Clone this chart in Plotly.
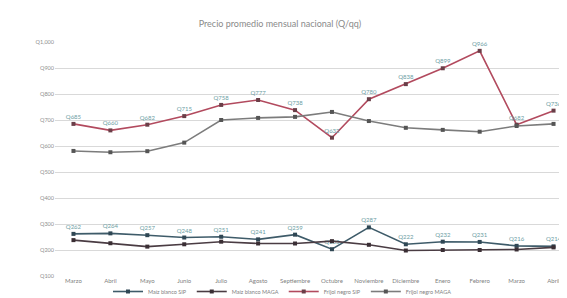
import plotly.graph_objects as go

months = ["Marzo", "Abril", "Mayo", "Junio", "Julio", "Agosto", "Septiembre", "Octubre",
          "Noviembre", "Diciembre", "Enero", "Febrero", "Marzo", "Abril"]
maiz_sip = [262, 264, 257, 248, 251, 241, 259, 203, 287, 222, 232, 231, 216, 214]
maiz_maga = [238, 226, 213, 222, 232, 225, 225, 234, 220, 198, 200, 200, 202, 210]
frijol_sip = [685, 660, 682, 715, 758, 777, 738, 632, 780, 838, 899, 966, 682, 736]
frijol_maga = [581, 576, 580, 613, 700, 708, 712, 731, 696, 670, 662, 655, 677, 685]
ytick_vals = [100, 200, 300, 400, 500, 600, 700, 800, 900, 1000]
ytick_text = ["Q100", "Q200", "Q300", "Q400", "Q500", "Q600", "Q700", "Q800", "Q900", "Q1,000"]

x = list(range(len(months)))
font = "Lato, Open Sans, sans-serif"
label_color = "#6d9ea4"

fig = go.Figure()

def add(name, y, line_color, marker_color, labels):
    fig.add_trace(go.Scatter(
        x=x, y=y, name=name,
        mode="lines+markers+text" if labels else "lines+markers",
        line=dict(color=line_color, width=1.6),
        marker=dict(color=marker_color, size=4, symbol="square"),
        text=[f"Q{v}" for v in y] if labels else None,
        textposition="top center",
        textfont=dict(size=6, color=label_color, family=font),
        cliponaxis=False,
    ))

add("Maíz blanco SIP", maiz_sip, "#3e5b69", "#2f4754", True)
add("Maíz blanco MAGA", maiz_maga, "#4a3c43", "#3a2e34", False)
add("Frijol negro SIP", frijol_sip, "#b24a5e", "#6a3f48", True)
add("Frijol negro MAGA", frijol_maga, "#7c7c7c", "#555555", False)

fig.update_layout(
    width=567, height=298,
    margin=dict(l=47, r=3, t=34, b=30, autoexpand=False),
    paper_bgcolor="white", plot_bgcolor="white",
    title=dict(text="Precio promedio mensual nacional (Q/qq)", x=0.435, xanchor="center",
               xref="paper", yref="container", y=1 - 16 / 298, yanchor="middle",
               font=dict(size=9, color="#8a8a8a", family=font)),
    font=dict(family=font, color="#7f7f7f", size=7),
    showlegend=True,
    legend=dict(orientation="h", x=0.44, xanchor="center", y=-0.5 / 298, yanchor="bottom",
                yref="container", font=dict(size=5.5, color="#7f7f7f"), itemwidth=30,
                tracegroupgap=0, bgcolor="rgba(0,0,0,0)"),
    xaxis=dict(tickvals=x, ticktext=months, range=[-0.5, len(months) - 0.5],
               showgrid=False, zeroline=False, showline=False, ticks="",
               tickfont=dict(size=6, color="#7f7f7f")),
    yaxis=dict(range=[100, 1000], tickvals=ytick_vals, ticktext=ytick_text,
               showgrid=True, gridcolor="#d9d9d9", gridwidth=1, zeroline=False,
               ticks="", tickfont=dict(size=5.5, color="#8f8f8f")),
)

fig.write_html("out.html")
